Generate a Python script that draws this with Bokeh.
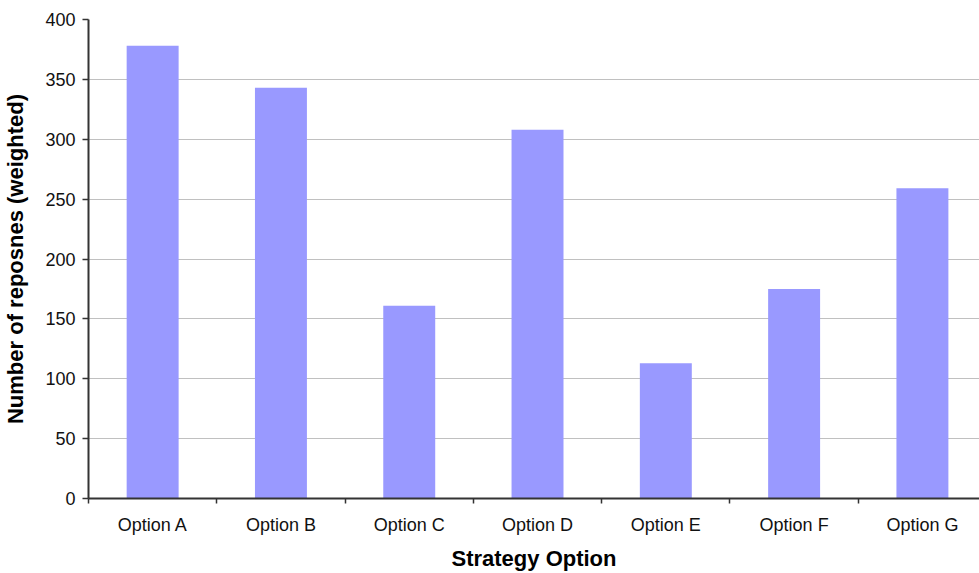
from bokeh.plotting import figure
from bokeh.models import Range1d, FixedTicker, CustomJSTickFormatter, ColumnDataSource
from bokeh.embed import file_html
from bokeh.resources import INLINE

categories = ["Option A", "Option B", "Option C", "Option D", "Option E", "Option F", "Option G"]
responses = [378, 343, 161, 308, 113, 175, 259]
y_ticks = [0, 50, 100, 150, 200, 250, 300, 350, 400]

centers = [i + 0.5 for i in range(len(categories))]
bounds = [float(i) for i in range(len(categories) + 1)]

src = ColumnDataSource(dict(x=centers, top=responses, cat=categories))

FONT = "Liberation Sans"

p = figure(width=979, height=573, output_backend="svg", toolbar_location=None,
           x_range=Range1d(0, 6.945), y_range=Range1d(0, 400),
           min_border_left=88, min_border_right=0, min_border_top=19, min_border_bottom=75,
           background_fill_color="white", border_fill_color="white")
p.outline_line_color = None

p.vbar(x="x", top="top", width=0.405, source=src, fill_color="#9999FF", line_color=None)

# x axis
p.xaxis.ticker = FixedTicker(ticks=centers, minor_ticks=bounds)
p.xaxis.formatter = CustomJSTickFormatter(args=dict(labels=categories),
                                          code="const i = Math.floor(tick); return (i >= 0 && i < labels.length) ? labels[i] : '';")
p.xaxis.major_tick_out = 0
p.xaxis.major_tick_in = 0
p.xaxis.minor_tick_out = 5
p.xaxis.minor_tick_in = 0
p.xaxis.minor_tick_line_color = "#333333"
p.xaxis.minor_tick_line_width = 1.5
p.xaxis.axis_line_color = "#333333"
p.xaxis.axis_line_width = 2
p.xaxis.major_label_text_font = FONT
p.xaxis.major_label_text_font_size = "18px"
p.xaxis.major_label_text_color = "#111111"
p.xaxis.major_label_standoff = 11
p.xaxis.axis_label = "Strategy Option"
p.xaxis.axis_label_text_font = FONT
p.xaxis.axis_label_text_font_size = "22px"
p.xaxis.axis_label_text_font_style = "bold"
p.xaxis.axis_label_text_color = "#000000"
p.xaxis.axis_label_standoff = 8

# y axis
p.yaxis.ticker = FixedTicker(ticks=y_ticks)
p.yaxis.major_tick_out = 6
p.yaxis.major_tick_in = 0
p.yaxis.minor_tick_out = 0
p.yaxis.minor_tick_in = 0
p.yaxis.major_tick_line_color = "#333333"
p.yaxis.major_tick_line_width = 1.5
p.yaxis.axis_line_color = "#333333"
p.yaxis.axis_line_width = 2
p.yaxis.major_label_text_font = FONT
p.yaxis.major_label_text_font_size = "18px"
p.yaxis.major_label_text_color = "#111111"
p.yaxis.major_label_standoff = 7
p.yaxis.axis_label = "Number of reposnes (weighted)"
p.yaxis.axis_label_text_font = FONT
p.yaxis.axis_label_text_font_size = "22px"
p.yaxis.axis_label_text_font_style = "bold"
p.yaxis.axis_label_text_color = "#000000"
p.yaxis.axis_label_standoff = 14

p.xgrid.grid_line_color = None
p.ygrid.ticker = FixedTicker(ticks=y_ticks)
p.ygrid.grid_line_color = "#C0C0C0"
p.ygrid.grid_line_width = 1

open("out.html", "w").write(file_html(p, INLINE))
